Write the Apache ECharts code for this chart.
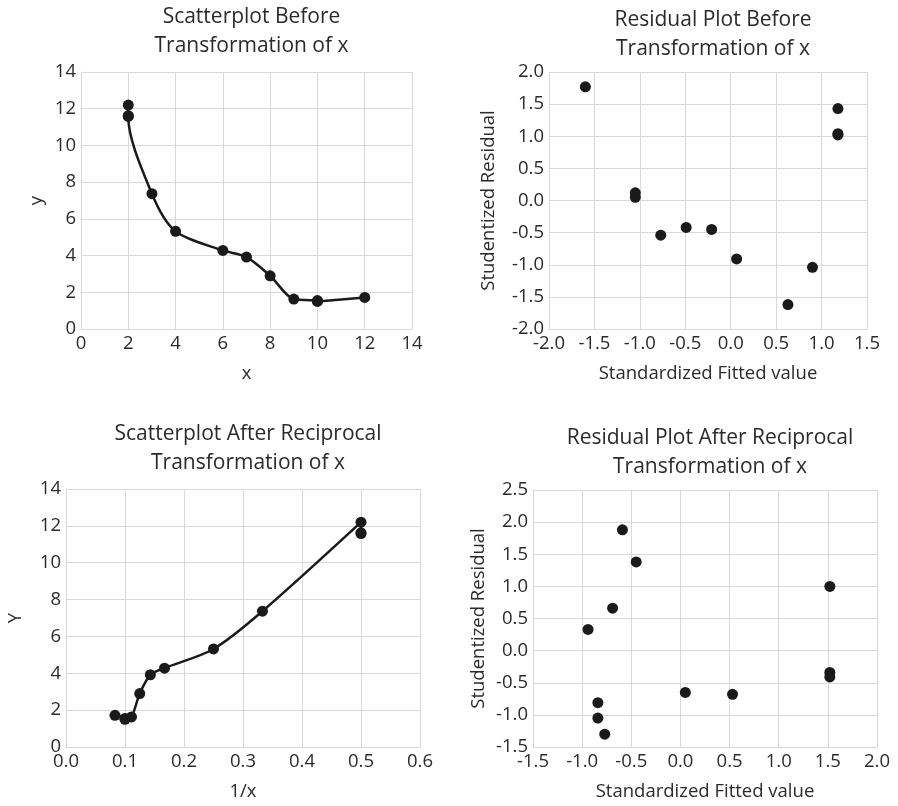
<!DOCTYPE html>
<html>
<head>
<meta charset="utf-8">
<script src="https://cdn.jsdelivr.net/npm/echarts@6/dist/echarts.min.js"></script>
<style>
html,body{margin:0;padding:0;background:#fff;}
#chart{width:898px;height:806px;}
</style>
</head>
<body>
<div id="chart"></div>
<script>
// ---- Data ----
var xVals = [2, 2, 2, 3, 4, 6, 7, 8, 9, 10, 10, 12];
var yVals = [12.2, 11.62, 11.58, 7.37, 5.32, 4.28, 3.92, 2.9, 1.63, 1.5, 1.55, 1.72];
var recipX = [0.5, 0.5, 0.5, 0.333, 0.25, 0.167, 0.143, 0.125, 0.111, 0.1, 0.1, 0.083];

var fitBefore   = [1.18, 1.18, 1.18, 0.90, 0.63, 0.065, -0.21, -0.49, -0.77, -1.05, -1.05, -1.60];
var residBefore = [1.43, 1.04, 1.02, -1.04, -1.62, -0.91, -0.45, -0.42, -0.54, 0.05, 0.12, 1.77];

var fitAfter   = [1.52, 1.52, 1.52, 0.53, 0.05, -0.45, -0.59, -0.69, -0.77, -0.84, -0.84, -0.94];
var residAfter = [1.0, -0.34, -0.41, -0.68, -0.65, 1.38, 1.88, 0.66, -1.30, -1.05, -0.81, 0.33];

var titles = [
  'Scatterplot Before\nTransformation of x',
  'Residual Plot Before\nTransformation of x',
  'Scatterplot After Reciprocal\nTransformation of x',
  'Residual Plot After Reciprocal\nTransformation of x'
];
var xNames = ['x', 'Standardized Fitted value', '1/x', 'Standardized Fitted value'];
var yNames = ['y', 'Studentized Residual', 'Y', 'Studentized Residual'];

function pairs(a, b) { return a.map(function (v, i) { return [v, b[i]]; }); }
// order points along x for the connecting line (ties: y descending)
function sortedPairs(a, b) {
  return pairs(a, b).sort(function (p, q) {
    if (p[0] !== q[0]) return p[0] - q[0];
    return q[1] - p[1];
  });
}

// ---- Layout / style ----
var FONT = '"Open Sans"';
var FS = 18.5;
var TFS = 21;
var TXT = '#2b2b2b';
var GRIDC = '#d9d9d9';
var MARK = '#1a1a1a';

var grids = [
  {left: 81, top: 72, width: 331, height: 257},
  {left: 549, top: 72, width: 318, height: 257},
  {left: 66, top: 489, width: 354, height: 258},
  {left: 533, top: 490, width: 344, height: 257}
];
var titleTops = [-2, 1, 415, 419];

var axisRanges = [
  {x: [0, 14, 2], y: [0, 14, 2], xd: 0, yd: 0, xGap: 35, yGap: 35},
  {x: [-2, 1.5, 0.5], y: [-2, 2, 0.5], xd: 1, yd: 1, xGap: 35, yGap: 51},
  {x: [0, 0.6, 0.1], y: [0, 14, 2], xd: 1, yd: 0, xGap: 35, yGap: 41},
  {x: [-1.5, 2, 0.5], y: [-1.5, 2.5, 0.5], xd: 1, yd: 1, xGap: 35, yGap: 45}
];

function mkAxis(r, dec, name, gap, idx) {
  return {
    type: 'value',
    gridIndex: idx,
    min: r[0], max: r[1], interval: r[2],
    name: name,
    nameLocation: 'middle',
    nameGap: gap,
    nameTextStyle: {fontFamily: FONT, fontSize: FS, color: TXT},
    axisLine: {show: true, onZero: false, lineStyle: {color: GRIDC, width: 1}},
    axisTick: {show: false},
    splitLine: {show: true, lineStyle: {color: GRIDC, width: 1}},
    axisLabel: {
      fontFamily: FONT, fontSize: FS, color: TXT,
      margin: 5,
      formatter: function (v) { return Number(v).toFixed(dec); }
    }
  };
}

var option = {
  backgroundColor: '#ffffff',
  animation: false,
  title: titles.map(function (t, i) {
    return {
      text: t,
      left: grids[i].left + grids[i].width / 2,
      textAlign: 'center',
      top: titleTops[i],
      textStyle: {fontFamily: FONT, fontSize: TFS, fontWeight: 'normal', color: TXT, lineHeight: 29}
    };
  }),
  grid: grids,
  xAxis: axisRanges.map(function (r, i) { return mkAxis(r.x, r.xd, xNames[i], r.xGap, i); }),
  yAxis: axisRanges.map(function (r, i) { return mkAxis(r.y, r.yd, yNames[i], r.yGap, i); }),
  series: [
    {
      type: 'line', xAxisIndex: 0, yAxisIndex: 0,
      data: sortedPairs(xVals, yVals),
      smooth: 0.3,
      symbol: 'circle', symbolSize: 11,
      itemStyle: {color: MARK, opacity: 1},
      lineStyle: {color: MARK, width: 2.5}
    },
    {
      type: 'scatter', xAxisIndex: 1, yAxisIndex: 1,
      data: pairs(fitBefore, residBefore),
      symbol: 'circle', symbolSize: 11,
      itemStyle: {color: MARK, opacity: 1}
    },
    {
      type: 'line', xAxisIndex: 2, yAxisIndex: 2,
      data: sortedPairs(recipX, yVals),
      smooth: 0.3,
      symbol: 'circle', symbolSize: 11,
      itemStyle: {color: MARK, opacity: 1},
      lineStyle: {color: MARK, width: 2.5}
    },
    {
      type: 'scatter', xAxisIndex: 3, yAxisIndex: 3,
      data: pairs(fitAfter, residAfter),
      symbol: 'circle', symbolSize: 11,
      itemStyle: {color: MARK, opacity: 1}
    }
  ]
};

var chart = echarts.init(document.getElementById('chart'), null, {renderer: 'canvas'});
chart.setOption(option);
</script>
</body>
</html>
